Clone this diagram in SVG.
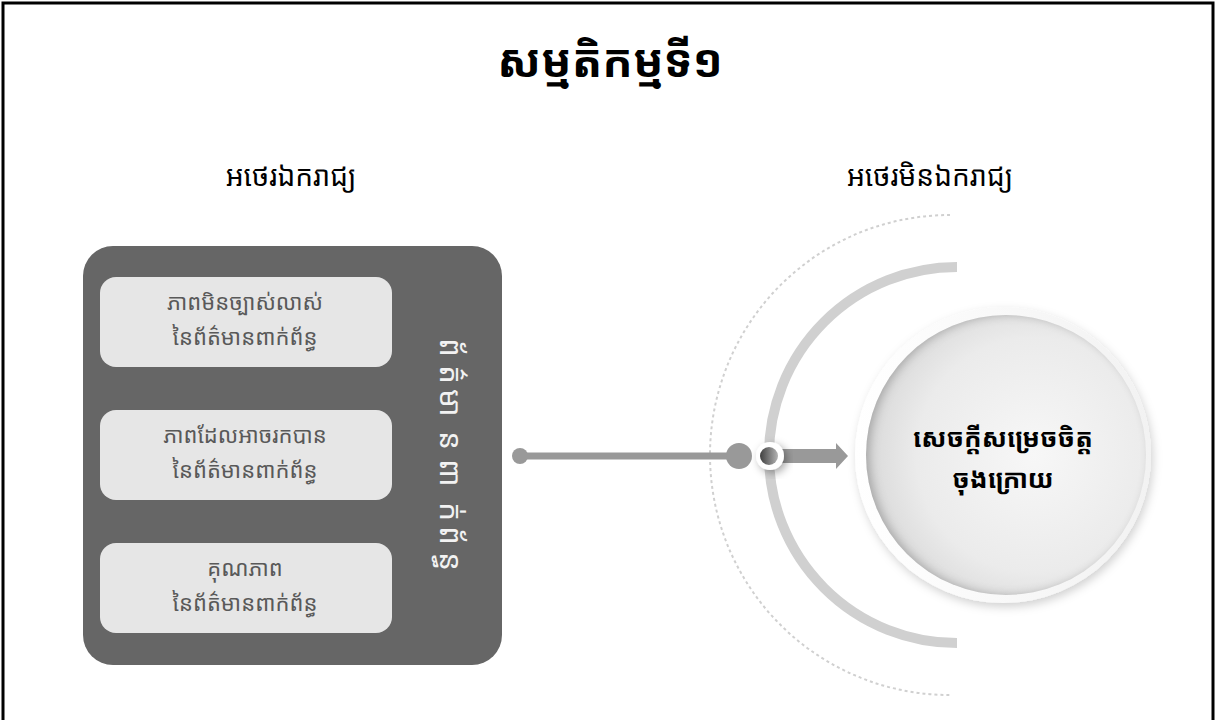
<svg xmlns="http://www.w3.org/2000/svg" width="1216" height="720" viewBox="0 0 1216 720">
<defs>
<style>
.kh{font-family:"Noto Sans Khmer","Khmer OS","Khmer OS System","Noto Serif Khmer","DejaVu Sans","Noto Sans",sans-serif;}
.title{font-size:45px;font-weight:bold;fill:#000;text-anchor:middle;}
.sub{font-size:28px;fill:#000;text-anchor:middle;}
.box{fill:#e6e6e6;}
.boxt{font-size:22px;fill:#595959;text-anchor:middle;}
.vt{font-size:30px;fill:#f2f2f2;text-anchor:start;}
.dec{font-size:26px;font-weight:bold;fill:#000;text-anchor:middle;}
.conn{stroke:#999;fill:none;}
</style>
<radialGradient id="disc" cx="0.6" cy="0.5" r="0.6">
<stop offset="0" stop-color="#f7f7f7"/>
<stop offset="0.7" stop-color="#ebebeb"/>
<stop offset="1" stop-color="#d9d9d9"/>
</radialGradient>
<linearGradient id="ring" x1="0" y1="0" x2="1" y2="0">
<stop offset="0" stop-color="#ffffff"/>
<stop offset="1" stop-color="#f2f2f2"/>
</linearGradient>
<linearGradient id="knob" x1="0" y1="0" x2="1" y2="0">
<stop offset="0" stop-color="#404040"/>
<stop offset="1" stop-color="#b3b3b3"/>
</linearGradient>
<filter id="sh" x="-30%" y="-30%" width="160%" height="160%">
<feDropShadow dx="3" dy="3" stdDeviation="4" flood-color="#000" flood-opacity="0.35"/>
</filter>
<filter id="sh2" x="-20%" y="-20%" width="140%" height="140%">
<feDropShadow dx="2" dy="4" stdDeviation="5" flood-color="#000" flood-opacity="0.18"/>
</filter>
<filter id="inner" x="-10%" y="-10%" width="120%" height="120%">
<feGaussianBlur in="SourceAlpha" stdDeviation="5" result="b"/>
<feOffset dx="4" dy="0" result="o"/>
<feComposite in="SourceAlpha" in2="o" operator="out" result="inv"/>
<feFlood flood-color="#000" flood-opacity="0.45"/>
<feComposite in2="inv" operator="in" result="s"/>
<feMerge><feMergeNode in="SourceGraphic"/><feMergeNode in="s"/></feMerge>
</filter>
</defs>
<rect x="3" y="3" width="1210" height="722" fill="#fff" stroke="#000" stroke-width="3"/>

<g id="title"><text class="kh title" x="610" y="77">សម្មតិកម្មទី១</text></g>
<g id="label-independent"><text class="kh sub" x="291" y="186">អថេរឯករាជ្យ</text></g>
<g id="label-dependent"><text class="kh sub" x="930" y="186">អថេរមិនឯករាជ្យ</text></g>

<g id="independent-panel">
<rect x="83" y="246" width="419" height="419" rx="30" fill="#666"/>
<text class="kh vt" y="460" transform="rotate(90 450 450)"><tspan x="338">ព័</tspan><tspan x="365">ត៌</tspan><tspan x="389">មា</tspan><tspan x="431">ន</tspan><tspan x="459">ពា</tspan><tspan x="502">ក់</tspan><tspan x="526">ព័</tspan><tspan x="552">ន្ធ</tspan></text>
</g>
<g id="box1">
<rect class="box" x="100" y="277" width="292" height="90" rx="16"/>
<text class="kh boxt" x="245" y="310">ភាពមិនច្បាស់លាស់</text>
<text class="kh boxt" x="245" y="345">នៃព័ត៌មានពាក់ព័ន្ធ</text>
</g>
<g id="box2">
<rect class="box" x="100" y="410" width="292" height="90" rx="16"/>
<text class="kh boxt" x="245" y="443">ភាពដែលអាចរកបាន</text>
<text class="kh boxt" x="245" y="478">នៃព័ត៌មានពាក់ព័ន្ធ</text>
</g>
<g id="box3">
<rect class="box" x="100" y="543" width="292" height="90" rx="16"/>
<text class="kh boxt" x="245" y="576">គុណភាព</text>
<text class="kh boxt" x="245" y="611">នៃព័ត៌មានពាក់ព័ន្ធ</text>
</g>

<g id="arcs">
<path d="M950 215 A240 240 0 0 0 950 695" fill="none" stroke="#d0d0d0" stroke-width="2" stroke-dasharray="3 3"/>
<path d="M957 267 A188 188 0 0 0 957 643" fill="none" stroke="#d0d0d0" stroke-width="10"/>
</g>

<g id="connectors">
<line class="conn" x1="520" y1="456" x2="740" y2="456" stroke-width="7"/>
<circle cx="520" cy="456" r="8" fill="#999"/>
<circle cx="739" cy="456" r="13" fill="#999"/>
<path d="M780 449 L836 449 L836 443 L848 456 L836 469 L836 463 L780 463 Z" fill="#999"/>
<g filter="url(#sh)">
<circle cx="770" cy="456" r="14" fill="#fff"/>
</g>
<circle cx="769" cy="456" r="9" fill="url(#knob)"/>
</g>

<g id="decision">
<circle cx="1003" cy="455" r="148" fill="url(#ring)" filter="url(#sh2)"/>
<circle cx="1006" cy="455" r="140" fill="url(#disc)" filter="url(#inner)"/>
<text class="kh dec" x="1003" y="447">សេចក្ដីសម្រេចចិត្ត</text>
<text class="kh dec" x="1003" y="488">ចុងក្រោយ</text>
</g>
</svg>
